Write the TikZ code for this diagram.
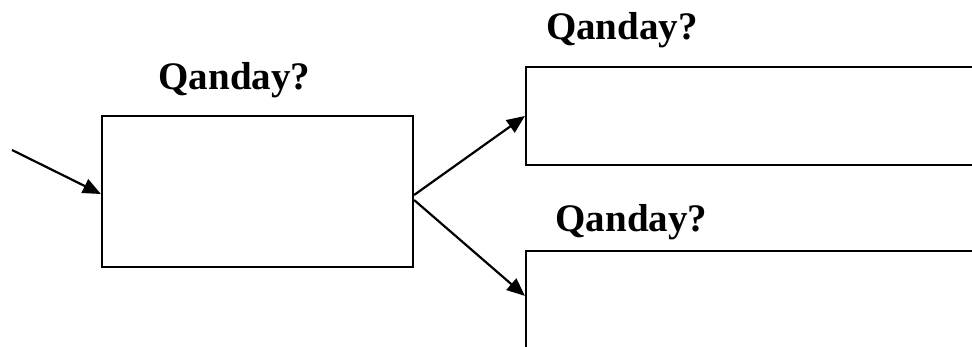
\documentclass[tikz,border=0pt]{standalone}
\usepackage{fontspec}
\setmainfont{Liberation Serif}
\usetikzlibrary{arrows.meta,calc}
\begin{document}
\begin{tikzpicture}[x=1pt,y=-1pt,
  box/.style={draw,line width=2.2pt,rectangle,inner sep=0pt},
  lab/.style={font=\fontsize{39}{40}\selectfont\bfseries,inner sep=0pt,anchor=base},
  arr/.style={line width=2.2pt,-{Triangle[length=18pt,width=15pt]}}]
\useasboundingbox (0,0) rectangle (972,347);
\clip (0,0) rectangle (972,347);
\node[box,minimum width=311pt,minimum height=151pt] (L) at (257.5,191.5) {};
\node[box,minimum width=480pt,minimum height=98pt] (T) at (766,116) {};
\node[box,minimum width=480pt,minimum height=160pt] (B) at (766,331) {};
\node[lab] (lL) at (234.5,90) {Qanday?};
\node[lab] (lT) at (622,40) {Qanday?};
\node[lab] (lB) at (631.5,232) {Qanday?};
\coordinate (s) at (12,150);
\draw[arr] (s) -- ([yshift=-2.5pt]L.west);
\draw[arr] ([yshift=-3.5pt]L.east) -- (T.west);
\draw[arr] ([yshift=-8.5pt]L.east) -- ([yshift=-46pt]B.north west);
\end{tikzpicture}
\end{document}
